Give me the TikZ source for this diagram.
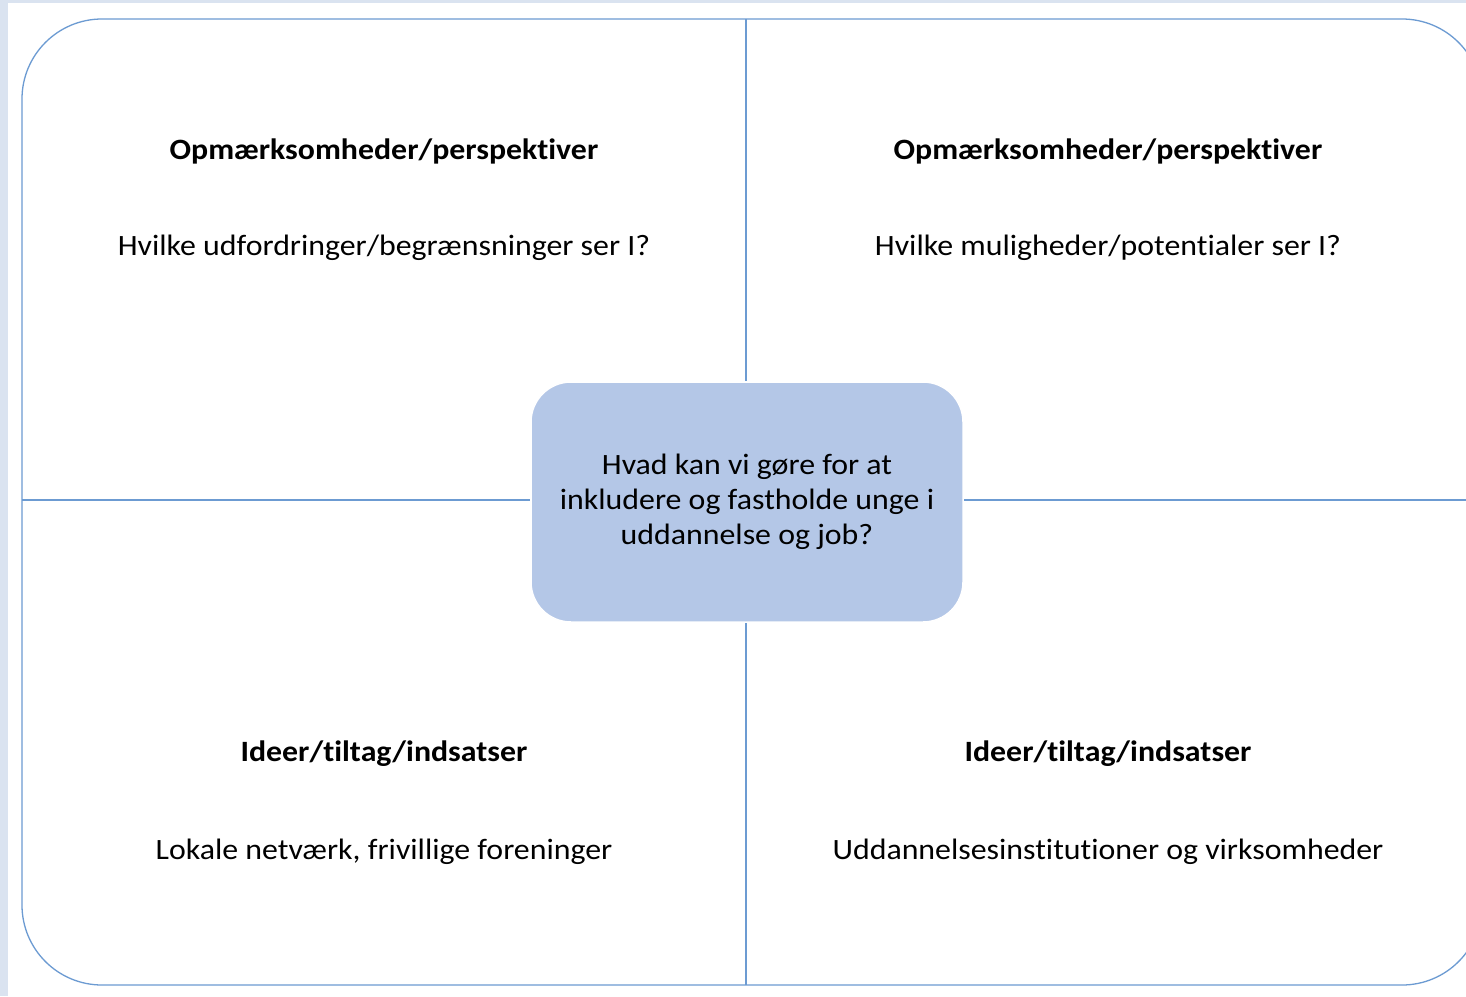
\documentclass[tikz,border=0pt]{standalone}
\usepackage{fontspec}
\setmainfont{Carlito}[FakeStretch=1.08,Ligatures={NoCommon}]
\definecolor{edge}{RGB}{108,155,210}
\definecolor{boxfill}{RGB}{180,199,231}
\definecolor{bgstrip}{RGB}{218,227,240}
\begin{document}
\begin{tikzpicture}[x=1pt,y=-1pt,
  title/.style={font=\fontsize{29.5}{35}\selectfont\bfseries, text=black, anchor=center},
  body/.style={font=\fontsize{29.5}{35}\selectfont, text=black, anchor=center},
  grid/.style={draw=edge, line width=1.3pt}]
\useasboundingbox (0,0) rectangle (1466,996);
\fill[bgstrip] (0,0) rectangle (1466,996);
\fill[white] (8,3) rectangle (1466,996);
\begin{scope}
\clip (0,0) rectangle (1466,996);
\draw[grid, rounded corners=80pt] (22,19) rectangle (1482,985);
\end{scope}
\node[draw=white, line width=1.5pt, fill=boxfill, rounded corners=40pt, minimum width=432pt, minimum height=240pt] (c) at (747,502) {};
\node[font=\fontsize{29.5}{35}\selectfont, align=center, text=black] (ct) at (747,502) {Hvad kan vi gøre for at\\inkludere og fastholde unge i\\uddannelse og job?};
\coordinate (top) at (746,19);
\coordinate (bot) at (746,985);
\coordinate (lft) at (22,500);
\coordinate (rgt) at (1466,500);
\draw[grid] (top) -- (c.north -| top);
\draw[grid] (bot) -- (c.south -| bot);
\draw[grid] (lft) -- (c.west |- lft);
\draw[grid] (rgt) -- (c.east |- rgt);
\node[title] (t1) at (384,151) {Opmærksomheder/perspektiver};
\node[body] (b1) at (384,248) {Hvilke udfordringer/begrænsninger ser I?};
\node[title] (t2) at (1108,151) {Opmærksomheder/perspektiver};
\node[body] (b2) at (1108,248) {Hvilke muligheder/potentialer ser I?};
\node[title] (t3) at (384,754) {Ideer/tiltag/indsatser};
\node[body] (b3) at (384,852) {Lokale netværk, frivillige foreninger};
\node[title] (t4) at (1108,754) {Ideer/tiltag/indsatser};
\node[body] (b4) at (1108,852) {Uddannelsesinstitutioner og virksomheder};
\end{tikzpicture}
\end{document}
